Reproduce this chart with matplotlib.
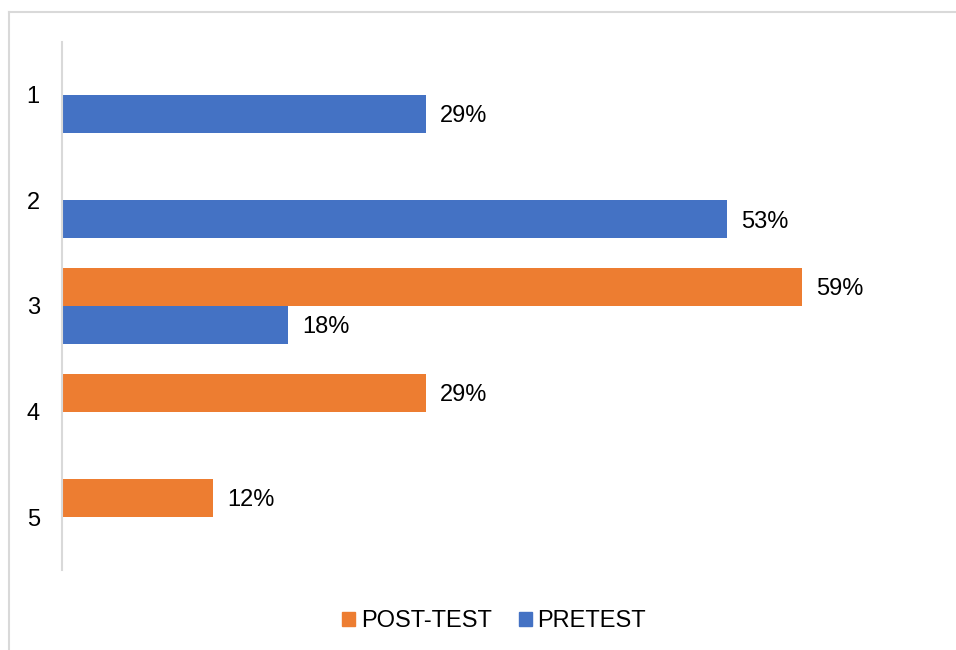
import numpy as np
import matplotlib
matplotlib.use("Agg")
import matplotlib.pyplot as plt
from matplotlib.lines import Line2D
from matplotlib.patches import Patch

plt.rcParams['font.family'] = ['Liberation Sans', 'DejaVu Sans']

categories = ["1", "2", "3", "4", "5"]
post_test = [np.nan, np.nan, 0.59, 0.29, 0.12]
pretest = [0.29, 0.53, 0.18, np.nan, np.nan]
series_names = ["POST-TEST", "PRETEST"]
colors = ["#ED7D31", "#4472C4"]

FS = 17

fig = plt.figure(figsize=(9.56, 6.5), dpi=100)
ax = fig.add_axes([62/956, 1-570/650, (940-62)/956, (570-42)/650])

y = np.arange(1, len(categories)+1)
h = 0.36
for vals, off, col in [(post_test, -0.18, colors[0]), (pretest, 0.18, colors[1])]:
    v = np.array(vals, dtype=float)
    mask = ~np.isnan(v)
    bars = ax.barh(y[mask] + off, v[mask], height=h, color=col)
    for b, val in zip(bars, v[mask]):
        ax.text(val + 0.0115, b.get_y() + b.get_height()/2 + 0.02, f"{val*100:.0f}%",
                va='center', ha='left', fontsize=FS, color='#000000')

ax.set_xlim(0, 0.7)
ax.set_ylim(5.5, 0.5)
ax.set_yticks(y)
ax.set_yticklabels(categories, fontsize=FS)
ax.tick_params(axis='y', length=0, pad=16)
ax.set_xticks([])
for s in ['top', 'right', 'bottom']:
    ax.spines[s].set_visible(False)
ax.spines['left'].set_color('#d9d9d9')
ax.spines['left'].set_linewidth(1.5)

handles = [Patch(color=colors[0]), Patch(color=colors[1])]
fig.legend(handles, series_names, loc='center', bbox_to_anchor=(494/956, 1-621/650),
           ncol=2, frameon=False, fontsize=FS, handlelength=0.55, handleheight=0.55,
           handletextpad=0.25, columnspacing=1.15)

# outer border
fig.add_artist(Line2D([9/956, 9/956], [0, 1-12/650], transform=fig.transFigure,
                      color='#d9d9d9', lw=1.5))
fig.add_artist(Line2D([9/956, 1], [1-12/650, 1-12/650], transform=fig.transFigure,
                      color='#d9d9d9', lw=1.5))

fig.savefig("out.png", dpi=100, facecolor='white')
